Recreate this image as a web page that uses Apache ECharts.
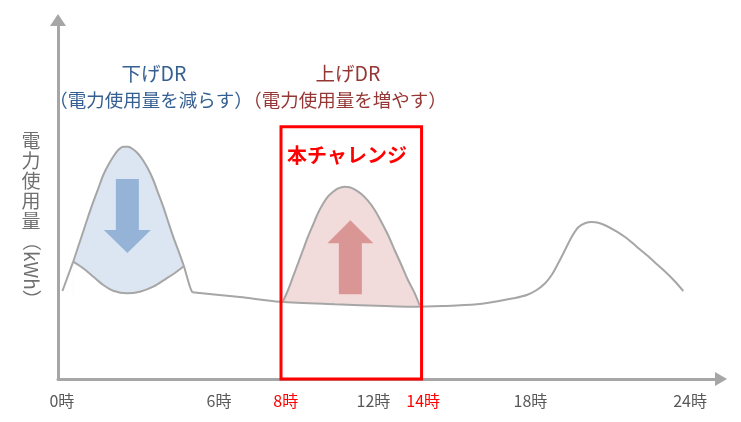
<!DOCTYPE html>
<html>
<head>
<meta charset="utf-8">
<script src="https://cdn.jsdelivr.net/npm/echarts@6/dist/echarts.min.js"></script>
<style>
html,body{margin:0;padding:0;background:#fff;}
#chart{width:741px;height:422px;}
</style>
</head>
<body>
<div id="chart"></div>
<script>
// ---- data (x = hour of day, y = electricity use, arbitrary kWh units) ----
const tickLabels    = ['0時', '6時', '8時', '12時', '14時', '18時', '24時'];
const tickPositions = [0, 6, 8.55, 11.9, 13.8, 17.9, 24];
const highlightedTicks = ['8時', '14時'];

const riseSegment   = [[0.02, 88], [0.43, 117.3]];
const peakCutUpper  = [[0.43, 117.3], [0.62, 132.3], [0.81, 147.3], [1.00, 162.3], [1.20, 177.3], [1.39, 190.7],
                       [1.58, 204], [1.77, 214], [1.96, 222.3], [2.15, 229], [2.34, 232.3], [2.53, 232.3],
                       [2.72, 229.7], [2.92, 225], [3.11, 218.3], [3.30, 209.7], [3.49, 199], [3.68, 185.7],
                       [3.87, 172.3], [4.06, 157.3], [4.25, 142.3], [4.44, 129], [4.66, 113]];
const peakCutLower  = [[0.43, 117.3], [0.81, 110.7], [1.20, 102.3], [1.58, 94], [1.96, 88.3], [2.47, 85.7],
                       [2.98, 87.3], [3.49, 92.3], [4.00, 100.7], [4.38, 107.3], [4.66, 113]];
const fallSegment   = [[4.66, 113], [4.89, 92.3], [4.98, 86.7]];
const shiftUpper    = [[8.44, 77.3], [8.64, 89], [8.83, 102.3], [9.02, 115.7], [9.21, 129], [9.40, 142.3],
                       [9.59, 154], [9.78, 165.7], [9.97, 175], [10.16, 182.3], [10.36, 187.3], [10.55, 190.7],
                       [10.80, 192.3], [10.99, 191.7], [11.18, 189.7], [11.44, 185], [11.69, 178.3], [11.95, 169],
                       [12.20, 157.3], [12.46, 144], [12.71, 129], [12.97, 114], [13.22, 99], [13.48, 85.7], [13.67, 73.5]];
const baseline      = [[4.98, 86.7], [6.80, 82], [8.33, 77.3], [10.43, 74.7], [12.34, 73], [13.30, 72.3],
                       [14.57, 73], [15.85, 74.7], [16.74, 78.3], [17.25, 80.7], [17.76, 84], [18.14, 89],
                       [18.46, 95.7], [18.71, 104], [18.96, 115.7], [19.22, 129], [19.48, 142.3], [19.73, 151.7],
                       [19.98, 155.7], [20.24, 157], [20.49, 156.3], [20.81, 153], [21.20, 147.3], [21.58, 140.7],
                       [21.96, 132.3], [22.34, 124], [22.72, 115], [23.11, 105.7], [23.43, 97.3], [23.74, 88]];
const challengeWindow = [8.37, 13.74];
const challengeTop    = 252.3;
const downArrowAt = [2.50, 163];
const upArrowAt   = [11.02, 121.8];

// ---- styles ----
const F = "'Noto Sans CJK JP', 'Noto Sans', sans-serif";
const GRAY = '#a6a6a6';
const BLUE_FILL = '#dce6f2', BLUE_ARROW = '#95b3d7', BLUE_TEXT = '#376092';
const RED_FILL = '#f2dcdb', RED_ARROW = '#d99694', RED_TEXT = '#953735';

function lineSeries(data, extra) {
  return Object.assign({
    type: 'line', data: data, smooth: 0.3, symbol: 'none', showSymbol: false,
    silent: true, lineStyle: { color: GRAY, width: 2 }, z: 2
  }, extra || {});
}

const chart = echarts.init(document.getElementById('chart'), null, { renderer: 'canvas' });
chart.setOption({
  animation: false,
  backgroundColor: '#ffffff',
  textStyle: { fontFamily: F },
  grid: { left: 58, right: 20, top: 20, bottom: 43, containLabel: false, outerBoundsMode: 'none' },
  xAxis: {
    type: 'value', min: -0.15, max: 25.18,
    splitLine: { show: false }, axisTick: { show: false },
    axisLine: { onZero: false, lineStyle: { color: GRAY, width: 3 }, symbol: ['none', 'triangle'], symbolSize: [14, 12] },
    axisLabel: {
      customValues: tickPositions,
      margin: 14, fontSize: 16, color: '#595959', fontFamily: F, hideOverlap: false,
      formatter: function (v) {
        let idx = -1;
        tickPositions.forEach(function (p, i) { if (Math.abs(p - v) < 1e-6) idx = i; });
        if (idx < 0) return '';
        const t = tickLabels[idx];
        return highlightedTicks.indexOf(t) >= 0 ? '{r|' + t + '}' : t;
      },
      rich: { r: { color: '#ff0000', fontSize: 16, fontFamily: F } }
    }
  },
  yAxis: {
    type: 'value', min: 0, max: 359,
    splitLine: { show: false }, axisTick: { show: false }, axisLabel: { show: false },
    axisLine: { show: true, onZero: false, lineStyle: { color: GRAY, width: 3 }, symbol: ['none', 'triangle'], symbolSize: [16, 12] }
  },
  series: [
    lineSeries(peakCutUpper, { areaStyle: { color: BLUE_FILL, opacity: 1, origin: 80 } }),
    lineSeries(peakCutLower, { areaStyle: { color: '#ffffff', opacity: 1, origin: 80 } }),
    lineSeries(shiftUpper, { areaStyle: { color: RED_FILL, opacity: 1, origin: 60 } }),
    lineSeries(baseline, { areaStyle: { color: '#ffffff', opacity: 1, origin: 60 } }),
    lineSeries(riseSegment, { smooth: false }),
    lineSeries(fallSegment, { smooth: 0.2 }),
    {
      type: 'scatter', silent: true, z: 5,
      data: [
        { value: downArrowAt, symbol: 'path://M12,0 L35,0 L35,51 L47,51 L23.5,74 L0,51 L12,51 Z',
          symbolSize: [47, 74], itemStyle: { color: BLUE_ARROW, opacity: 1 } },
        { value: upArrowAt, symbol: 'path://M23,0 L46,23 L34.5,23 L34.5,74 L11.5,74 L11.5,23 L0,23 Z',
          symbolSize: [46, 74], itemStyle: { color: RED_ARROW, opacity: 1 } }
      ]
    },
    {
      type: 'line', data: [], silent: true, z: 10,
      markArea: {
        silent: true, z: 10,
        label: { show: false },
        itemStyle: { color: 'rgba(0,0,0,0)', borderColor: '#ff0000', borderWidth: 3 },
        data: [[{ xAxis: challengeWindow[0], yAxis: 0 }, { xAxis: challengeWindow[1], yAxis: challengeTop }]]
      }
    }
  ],
  graphic: [
    { type: 'text', x: 154, y: 74, z: 20, style: { text: '下げDR', fill: BLUE_TEXT, fontSize: 19.5, fontFamily: F, textAlign: 'center', textVerticalAlign: 'middle' } },
    { type: 'text', x: 151, y: 100, z: 20, style: { text: '（電力使用量を減らす）', fill: BLUE_TEXT, fontSize: 18.5, fontFamily: F, textAlign: 'center', textVerticalAlign: 'middle' } },
    { type: 'text', x: 348, y: 74, z: 20, style: { text: '上げDR', fill: RED_TEXT, fontSize: 19.5, fontFamily: F, textAlign: 'center', textVerticalAlign: 'middle' } },
    { type: 'text', x: 345, y: 100, z: 20, style: { text: '（電力使用量を増やす）', fill: RED_TEXT, fontSize: 18.5, fontFamily: F, textAlign: 'center', textVerticalAlign: 'middle' } },
    { type: 'text', x: 347, y: 155, z: 20, style: { text: '本チャレンジ', fill: '#ff0000', fontSize: 20, fontWeight: 'bold', fontFamily: F, textAlign: 'center', textVerticalAlign: 'middle' } },
    { type: 'text', x: 31, y: 131, z: 20, style: { text: '電\n力\n使\n用\n量', fill: '#6f6f6f', fontSize: 19, lineHeight: 20, fontFamily: F, textAlign: 'center', textVerticalAlign: 'top' } },
    { type: 'text', x: 31, y: 232, rotation: -Math.PI / 2, z: 20, style: { text: '（kWh）', fill: '#6f6f6f', fontSize: 19, fontFamily: F, textAlign: 'left', textVerticalAlign: 'middle' } }
  ]
});
</script>
</body>
</html>
